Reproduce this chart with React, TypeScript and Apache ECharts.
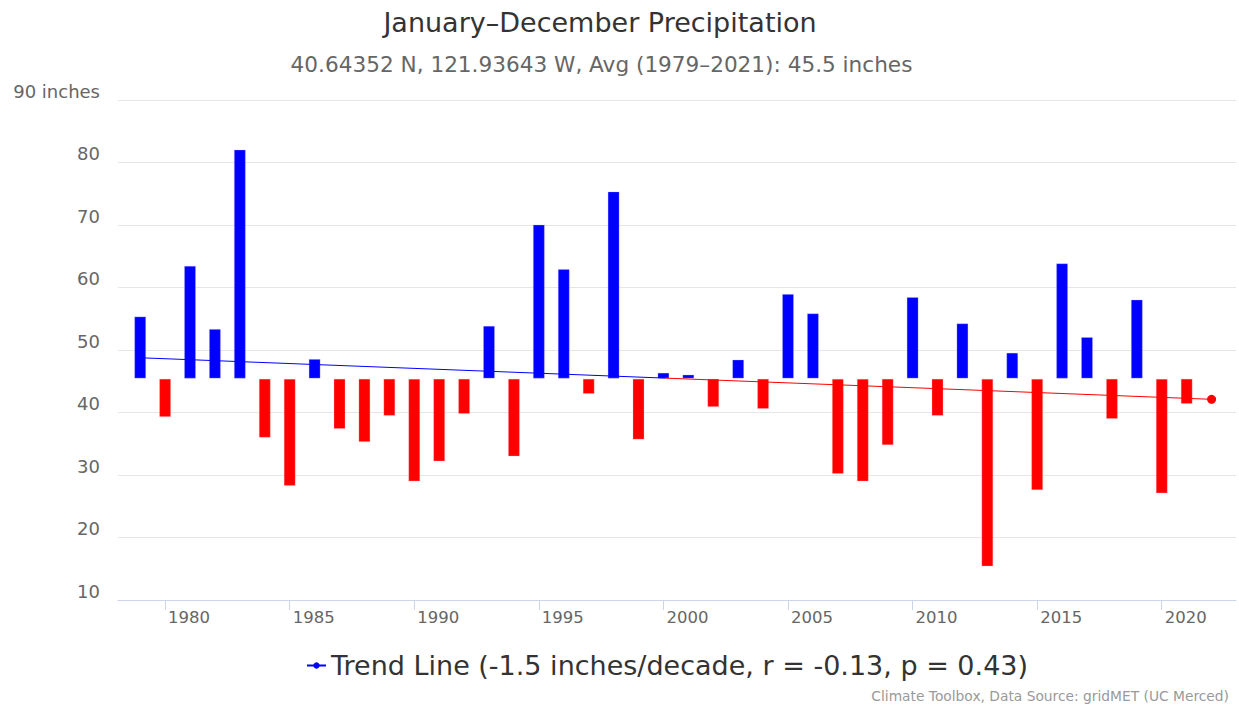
import React, { useEffect, useRef } from "react";
import * as echarts from "echarts";

const TITLE = "January–December Precipitation";
const SUBTITLE = "40.64352 N, 121.93643 W, Avg (1979–2021): 45.5 inches";
const CREDITS = "Climate Toolbox, Data Source: gridMET (UC Merced)";
const LEGEND_NAME = "Trend Line (-1.5 inches/decade, r = -0.13, p = 0.43)";

const BASELINE = 45.5;

const YEARS = [
  1979, 1980, 1981, 1982, 1983, 1984, 1985, 1986, 1987, 1988,
  1989, 1990, 1991, 1992, 1993, 1994, 1995, 1996, 1997, 1998,
  1999, 2000, 2001, 2002, 2003, 2004, 2005, 2006, 2007, 2008,
  2009, 2010, 2011, 2012, 2013, 2014, 2015, 2016, 2017, 2018,
  2019, 2020, 2021,
];

const PRECIP = [
  55.3, 39.5, 63.4, 53.3, 82.0, 36.2, 28.5, 48.5, 37.6, 35.5,
  39.7, 29.2, 32.4, 40.0, 53.8, 33.2, 70.0, 62.9, 43.2, 75.3,
  35.9, 46.3, 46.0, 41.1, 48.4, 40.8, 58.9, 55.8, 30.4, 29.2,
  35.0, 58.4, 39.7, 54.2, 15.6, 49.5, 27.8, 63.8, 52.0, 39.2,
  58.0, 27.3, 41.6,
];

const TREND_START = [1979, 48.76];
const TREND_END = [2022, 42.11];

const X_TICKS = [1980, 1985, 1990, 1995, 2000, 2005, 2010, 2015, 2020];

export default function App() {
  const ref = useRef<HTMLDivElement>(null);

  useEffect(() => {
    if (!ref.current) return;
    const chart = echarts.init(ref.current, null, { renderer: "svg" });
    const font = "DejaVu Sans";

    // point where the trend line crosses the baseline (colour change)
    const t = (BASELINE - TREND_START[1]) / (TREND_END[1] - TREND_START[1]);
    const cross = [TREND_START[0] + t * (TREND_END[0] - TREND_START[0]), BASELINE];

    const option: any = {
      animation: false,
      backgroundColor: "#ffffff",
      textStyle: { fontFamily: font },
      grid: {
        left: 118,
        right: 3,
        top: 100,
        bottom: 108,
        containLabel: false,
      },
      xAxis: {
        type: "value",
        min: 1978.11,
        max: 2022.98,
        splitLine: { show: false },
        axisLine: { show: true, lineStyle: { color: "#ccd6eb", width: 1 } },
        axisTick: {
          show: true,
          length: 10,
          customValues: X_TICKS,
          lineStyle: { color: "#ccd6eb", width: 1 },
        },
        axisLabel: {
          customValues: X_TICKS,
          align: "left",
          margin: 9,
          padding: [0, 0, 0, 3],
          color: "#666666",
          fontSize: 16.5,
          fontFamily: font,
          formatter: (v: number) => String(Math.round(v)),
        },
      },
      yAxis: {
        type: "value",
        min: 10,
        max: 90,
        interval: 10,
        axisLine: { show: false },
        axisTick: { show: false },
        splitLine: { show: true, lineStyle: { color: "#e6e6e6", width: 1 } },
        axisLabel: {
          margin: 18,
          verticalAlign: "bottom",
          color: "#666666",
          fontSize: 18,
          fontFamily: font,
          formatter: (v: number) => (v === 90 ? "90 inches" : String(v)),
        },
      },
      legend: {
        data: [LEGEND_NAME],
        left: 301,
        top: 647,
        itemWidth: 19,
        itemHeight: 8,
        textStyle: { color: "#333333", fontSize: 27, fontFamily: font },
      },
      series: [
        {
          type: "custom",
          name: "Precipitation",
          data: YEARS.map((y, i) => [y, PRECIP[i]]),
          encode: { x: 0, y: 1 },
          renderItem: (params: any, api: any) => {
            const year = api.value(0);
            const v = api.value(1);
            const p0 = api.coord([year, BASELINE]);
            const p1 = api.coord([year, v]);
            const w = 11;
            const up = v >= BASELINE;
            return {
              type: "rect",
              shape: {
                x: p0[0] - w / 2,
                y: Math.min(p0[1], p1[1]) + (up ? 0 : 1),
                width: w,
                height: Math.abs(p1[1] - p0[1]),
              },
              style: {
                fill: up ? "#0000ff" : "#ff0000",
                stroke: up ? "rgba(180,180,255,0.6)" : "rgba(255,180,180,0.6)",
                lineWidth: 0.5,
              },
            };
          },
        },
        {
          type: "line",
          name: LEGEND_NAME,
          color: "#0000ff",
          symbol: "circle",
          symbolSize: 9,
          showSymbol: false,
          lineStyle: { width: 1, color: "#0000ff" },
          z: 3,
          data: [TREND_START, cross],
        },
        {
          type: "line",
          name: "Trend Line (below average)",
          color: "#ff0000",
          symbol: "circle",
          symbolSize: 9,
          showSymbol: true,
          lineStyle: { width: 1, color: "#ff0000" },
          z: 3,
          data: [
            { value: cross, symbol: "none" },
            { value: TREND_END, symbol: "circle", symbolSize: 9 },
          ],
        },
      ],
      graphic: [
        {
          type: "text",
          x: 600,
          y: 22,
          style: {
            text: TITLE,
            fill: "#333333",
            font: `27px "${font}"`,
            textAlign: "center",
            textVerticalAlign: "middle",
          },
        },
        {
          type: "text",
          x: 601.5,
          y: 64,
          style: {
            text: SUBTITLE,
            fill: "#666666",
            font: `21.6px "${font}"`,
            textAlign: "center",
            textVerticalAlign: "middle",
          },
        },
        {
          type: "text",
          x: 1229,
          y: 696,
          style: {
            text: CREDITS,
            fill: "#999999",
            font: `13.8px "${font}"`,
            textAlign: "right",
            textVerticalAlign: "middle",
          },
        },
      ],
    };

    chart.setOption(option);
    return () => chart.dispose();
  }, []);

  return (
    <div
      ref={ref}
      style={{ position: "fixed", left: 0, top: 0, width: 1239, height: 708 }}
    />
  );
}
